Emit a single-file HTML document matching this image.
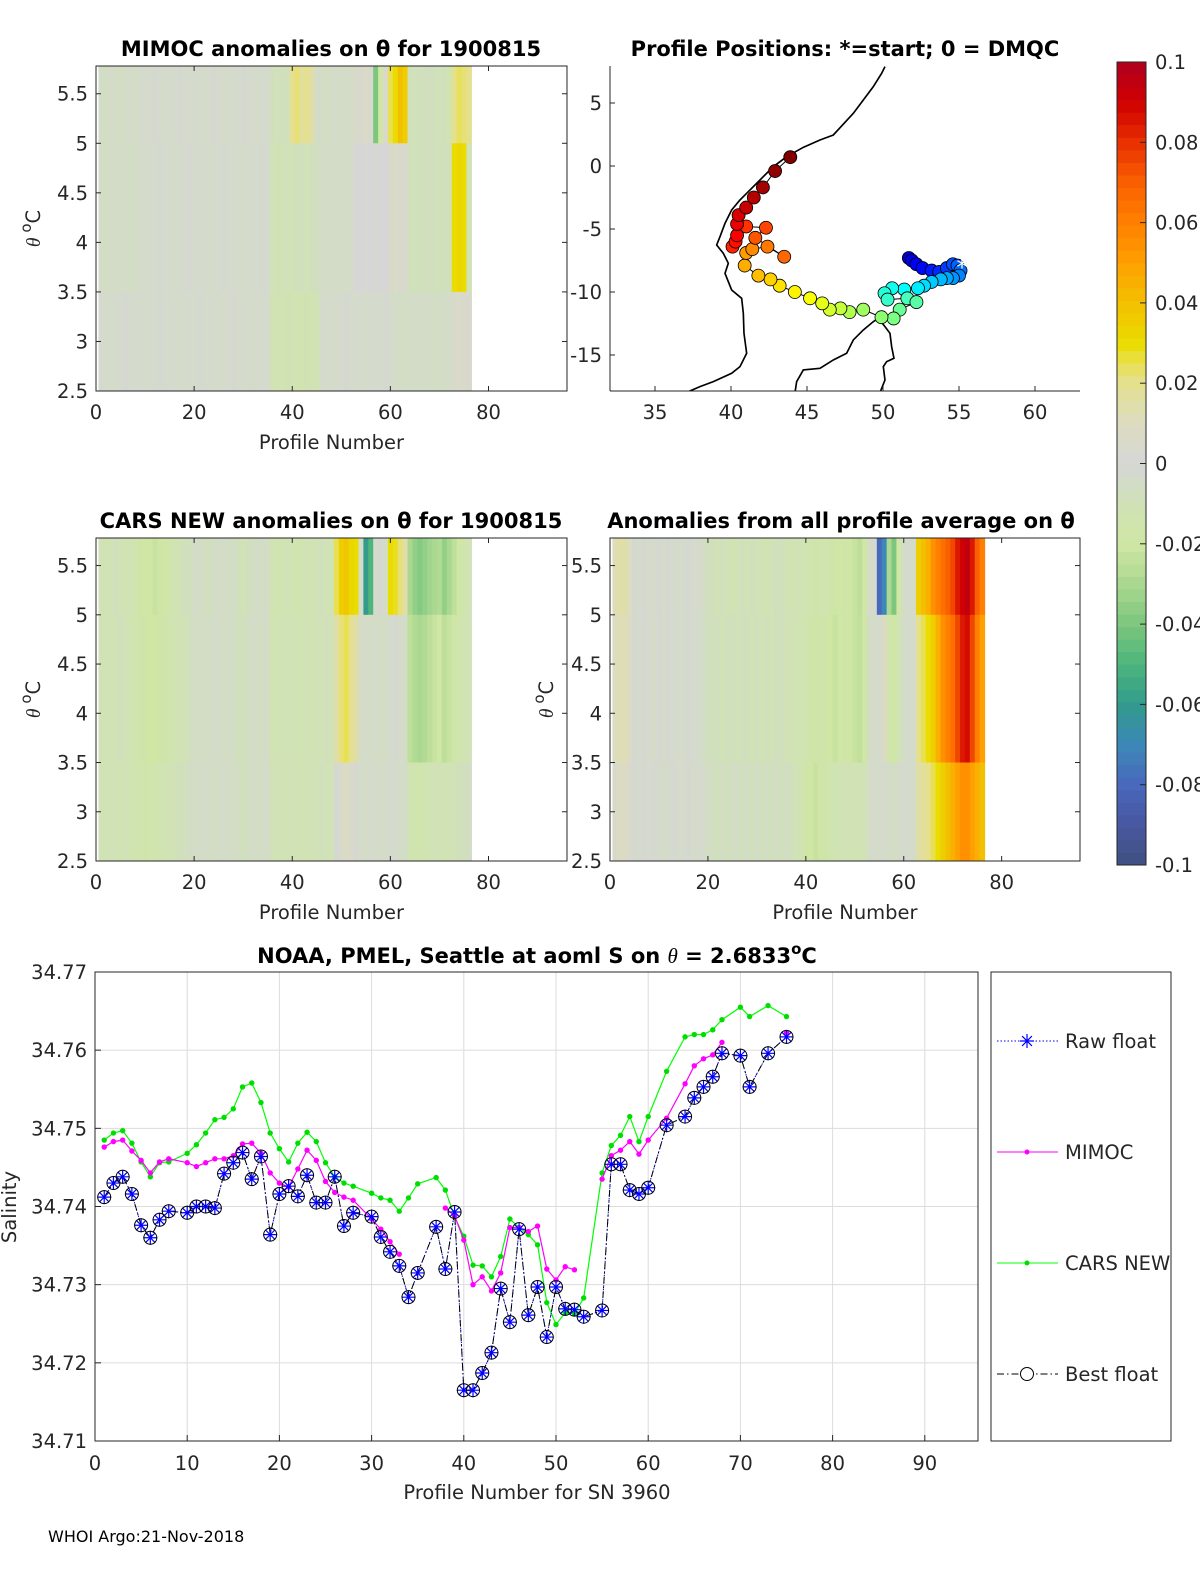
<!DOCTYPE html>
<html><head><meta charset="utf-8"><style>
html,body{margin:0;padding:0;background:#fff;}
svg{display:block;font-family:"DejaVu Sans","Liberation Sans",sans-serif;}
.t{font-size:19.5px;fill:#262626;}
.ti{font-size:21px;font-weight:bold;fill:#000;}
.ax{fill:none;stroke:#262626;stroke-width:1;}
</style></head><body>
<svg id="fig" width="1200" height="1575" viewBox="0 0 1200 1575" xmlns="http://www.w3.org/2000/svg">
<defs>
<clipPath id="c1"><rect x="96" y="66" width="471" height="325"/></clipPath>
<clipPath id="c3"><rect x="96" y="538" width="471" height="323"/></clipPath>
<clipPath id="c4"><rect x="610" y="538" width="470" height="323"/></clipPath>
<clipPath id="c2"><rect x="610" y="66" width="470" height="325"/></clipPath>
<clipPath id="c5"><rect x="95" y="972" width="883" height="469"/></clipPath>
</defs>
<g id="panels"></g>
<g id="map"></g>
<g id="cbar"></g>
<g id="line"></g>
<text x="48" y="1542" style="font-size:16px;fill:#000">WHOI Argo:21-Nov-2018</text>
</svg>
<script>
// ---------- heatmap data (thousandths) ----------
const p1Top=[-5,-6,-4,-5,-6,-5,-4,-5,-3,-3,-3,-2,-3,-4,-3,-3,-2,-3,-3,-3,-3,-4,-3,-2,-3,-3,-4,-3,-3,-2,-3,-3,-4,-3,-3,-8,-9,-8,-8,20,22,18,20,15,-5,-5,-6,-5,-4,-5,-5,-5,5,5,6,4,-40,-20,5,25,30,40,35,-8,-9,-8,-8,-7,-8,-9,-8,-15,20,24,22,20,null];
const p1Mid=[-5,-6,-5,-5,-4,-5,-6,-5,-4,-3,-3,-3,-2,-3,-3,-4,-3,-3,-2,-3,-3,-3,-4,-3,-3,-2,-3,-3,-3,-4,-3,-3,-3,-2,-3,-10,-11,-10,-9,-10,-8,-8,-9,-8,-7,-5,-5,-4,-5,-5,-5,-4,0,0,1,0,-1,0,0,5,6,5,4,-8,-9,-8,-8,-7,-8,-9,-8,-8,30,32,30,-10,null];
const p1Bot=[-3,-3,-4,-3,-3,-2,-3,-3,-3,-4,-3,-3,-2,-3,-3,-3,-4,-3,-3,-3,-2,-3,-3,-3,-4,-3,-3,-2,-3,-3,-3,-4,-3,-3,-3,-12,-13,-12,-11,-12,-12,-13,-11,-12,-12,-3,-3,-4,-3,-3,-2,-3,-3,-3,-4,-3,-3,-3,-2,-3,-5,-5,-6,-5,-5,-4,-5,-5,-6,-5,-5,-5,5,6,5,4,null];
const p3Top=[-10,-12,-10,-8,-10,-12,-10,-15,-18,-20,-20,-22,-18,-20,-15,-12,-10,-8,-8,-5,-5,-6,-8,-5,-5,-4,-6,-5,-8,-10,-8,-6,-5,-5,-6,-12,-14,-12,-10,-12,-14,-12,-10,-12,-10,-8,-10,-12,25,35,38,32,30,-5,-60,-50,-3,-2,-5,30,28,22,15,-30,-35,-38,-35,-32,-30,-28,-35,-30,-25,-20,-15,-10,null];
const p3Mid=[-10,-10,-12,-10,-8,-10,-12,-14,-16,-18,-20,-20,-18,-16,-14,-12,-10,-10,-8,-6,-5,-6,-5,-5,-4,-6,-5,-6,-8,-8,-6,-5,-6,-5,-6,-12,-12,-10,-12,-10,-12,-12,-10,-12,-10,-10,-8,-10,15,22,25,20,15,-5,-4,-5,-4,-6,-5,-3,-2,-4,-5,-25,-28,-30,-28,-25,-22,-20,-25,-22,-18,-15,-12,-10,null];
const p3Bot=[-10,-12,-10,-10,-12,-10,-12,-14,-14,-16,-15,-14,-12,-12,-10,-10,-8,-8,-6,-5,-5,-4,-5,-6,-5,-4,-5,-6,-6,-8,-6,-5,-6,-5,-5,-10,-10,-12,-10,-10,-10,-12,-10,-10,-10,-8,-10,-10,-2,5,8,5,2,-5,-4,-3,-4,-5,-4,-3,-3,-5,-5,-12,-14,-15,-12,-12,-10,-10,-12,-10,-10,-8,-8,-6,null];
const p4Top=[12,15,15,10,-2,-3,-2,-4,-3,-2,-3,-2,-3,-4,-3,-2,-3,-3,-4,-8,-8,-10,-8,-10,-12,-10,-8,-10,-8,-10,-10,-12,-10,-8,-8,-10,-12,-10,-12,-12,-14,-16,-15,-14,-16,-18,-20,-18,-20,-22,-25,-20,-4,-3,-80,-70,-30,-40,-20,-5,-3,-4,35,40,45,55,60,65,70,75,85,90,95,85,70,60,null];
const p4Mid=[10,12,12,8,-2,-3,-2,-3,-4,-2,-3,-2,-3,-3,-4,-2,-3,-3,-5,-8,-8,-8,-10,-8,-8,-10,-8,-8,-10,-8,-10,-8,-10,-8,-8,-10,-10,-12,-12,-14,-16,-18,-16,-18,-20,-22,-20,-18,-20,-22,-24,-20,-5,-4,-3,8,-15,-20,-10,-5,-3,-4,20,25,30,35,45,55,60,65,75,85,88,75,60,50,null];
const p4Bot=[5,8,8,5,-2,-3,-2,-3,-2,-3,-4,-3,-2,-3,-3,-2,-4,-3,-3,-6,-6,-8,-6,-8,-6,-6,-8,-6,-8,-6,-8,-6,-8,-6,-8,-6,-8,-10,-12,-18,-20,-22,-18,-16,-14,-12,-12,-10,-12,-10,-12,-10,-4,-3,-4,-3,-5,-6,-4,-3,-3,-4,15,18,20,25,30,35,40,45,50,55,55,50,45,40,null];
const thetaBands=[[5.0,5.78],[3.5,5.0],[2.5,3.5]];
const thetaTicks=[2.5,3,3.5,4,4.5,5,5.5];
const profTicks=[0,20,40,60,80];

// ---------- map data ----------
const floatLon=[51.7,51.9,52.2,52.6,53.2,53.7,54.2,54.6,54.9,55.1,55.0,54.6,54.2,53.8,53.2,52.7,52.3,51.4,50.6,50.1,50.3,51.6,52.2,51.1,50.7,49.9,48.7,47.8,47.2,46.5,46.0,45.2,44.2,43.2,42.6,41.8,40.9,41.0,41.4,42.4,43.5,41.6,42.3,41.0,40.1,40.3,40.4,40.4,40.5,41.0,41.5,42.1,42.9,43.9];
const floatLat=[-7.3,-7.5,-7.8,-8.1,-8.3,-8.4,-8.1,-7.8,-7.9,-8.3,-8.7,-8.9,-8.9,-9.0,-9.2,-9.5,-9.7,-9.8,-9.7,-10.1,-10.6,-10.5,-10.8,-11.4,-12.1,-12.0,-11.4,-11.6,-11.3,-11.4,-10.9,-10.5,-10.0,-9.5,-9.0,-8.7,-7.9,-6.9,-6.6,-6.4,-7.2,-5.7,-4.9,-4.8,-6.4,-6.0,-5.5,-4.6,-3.9,-3.3,-2.5,-1.7,-0.4,0.7];
const mapLonTicks=[35,40,45,50,55,60];
const mapLatTicks=[5,0,-5,-10,-15];

// ---------- salinity line data ----------
const profiles=[1,2,3,4,5,6,7,8,10,11,12,13,14,15,16,17,18,19,20,21,22,23,24,25,26,27,28,30,31,32,33,34,35,37,38,39,40,41,42,43,44,45,46,47,48,49,50,51,52,53,55,56,57,58,59,60,62,64,65,66,67,68,70,71,73,75];
const bestFloat=[34.7412,34.7430,34.7438,34.7416,34.7376,34.7360,34.7383,34.7394,34.7392,34.7400,34.7400,34.7398,34.7442,34.7456,34.7469,34.7435,34.7464,34.7364,34.7416,34.7426,34.7413,34.7440,34.7405,34.7405,34.7438,34.7375,34.7392,34.7387,34.7361,34.7342,34.7324,34.7284,34.7315,34.7374,34.7320,34.7393,34.7165,34.7165,34.7187,34.7213,34.7295,34.7252,34.7371,34.7261,34.7297,34.7233,34.7297,34.7269,34.7268,34.7259,34.7267,34.7454,34.7454,34.7421,34.7416,34.7424,34.7504,34.7515,34.7539,34.7553,34.7566,34.7596,34.7593,34.7553,34.7596,34.7617];
const rawFloat=bestFloat.slice();
const mimoc=[34.7476,34.7483,34.7485,34.7471,34.7459,34.7443,34.7457,34.7461,34.7456,34.7451,34.7456,34.7461,34.7461,34.7465,34.7480,34.7481,34.7468,34.7443,34.7430,34.7425,34.7448,34.7472,34.7459,34.7432,34.7418,34.7412,34.7408,34.7384,34.7371,34.7355,34.7339,null,null,null,34.7398,34.7388,34.7357,34.7300,34.7310,34.7292,34.7315,34.7373,34.7373,34.7368,34.7375,34.7320,34.7306,34.7323,34.7319,null,34.7435,34.7465,34.7472,34.7483,34.7467,34.7485,34.7513,34.7557,34.7580,34.7589,34.7594,34.7610,null,null,null,34.7622];
const carsNew=[34.7485,34.7494,34.7497,34.7481,34.7457,34.7438,34.7456,34.7457,34.7468,34.7479,34.7494,34.7511,34.7514,34.7525,34.7553,34.7558,34.7533,34.7494,34.7474,34.7457,34.7481,34.7495,34.7483,34.7456,34.7438,34.7430,34.7426,34.7417,34.7411,34.7408,34.7394,34.7411,34.7429,34.7437,34.7421,34.7387,34.7362,34.7325,34.7324,34.7310,34.7336,34.7384,34.7373,34.7364,34.7351,34.7277,34.7249,34.7264,34.7263,34.7283,34.7443,34.7478,34.7491,34.7515,34.7483,34.7515,34.7573,34.7617,34.7620,34.7620,34.7626,34.7639,34.7655,34.7643,34.7657,34.7643];
const salTicks=[34.71,34.72,34.73,34.74,34.75,34.76,34.77];
const lineXTicks=[0,10,20,30,40,50,60,70,80,90];

const NS="http://www.w3.org/2000/svg";
function mk(tag,attrs,parent,txt){const e=document.createElementNS(NS,tag);for(const k in attrs)e.setAttribute(k,attrs[k]);if(txt!==undefined)e.textContent=txt;parent.appendChild(e);return e;}

// anomaly colormap
const cmapV=[-0.1,-0.09,-0.08,-0.07,-0.06,-0.05,-0.04,-0.03,-0.02,-0.01,0,0.01,0.02,0.025,0.03,0.04,0.05,0.06,0.07,0.08,0.09,0.1];
const cmapC=["#3e5080","#4858a0","#4868bc","#3c88b8","#329b8c","#4db57c","#7cc67e","#aad890","#cfe6a4","#d0e2b6","#d6d6d6","#dcdcc0","#e4e090","#e8e050","#eadc00","#f2c000","#ffa000","#ff8000","#fa6000","#e83000","#d00000","#b00020"];
function hex(c){return [parseInt(c.substr(1,2),16),parseInt(c.substr(3,2),16),parseInt(c.substr(5,2),16)];}
function cmap(v){v=Math.max(-0.1,Math.min(0.1,v));for(let i=0;i<cmapV.length-1;i++){if(v<=cmapV[i+1]){const t=(v-cmapV[i])/(cmapV[i+1]-cmapV[i]);const a=hex(cmapC[i]),b=hex(cmapC[i+1]);return "rgb("+a.map((x,j)=>Math.round(x+(b[j]-x)*t)).join(",")+")";}}return cmapC[cmapC.length-1];}
function jet(t){const r=Math.min(1,Math.max(0,1.5-Math.abs(4*t-3))),g=Math.min(1,Math.max(0,1.5-Math.abs(4*t-2))),b=Math.min(1,Math.max(0,1.5-Math.abs(4*t-1)));return "rgb("+[r,g,b].map(x=>Math.round(x*255)).join(",")+")";}

// ---------- heatmap panels ----------
const panelsG=document.getElementById('panels');
function panel(name,box,clip,top,mid,bot,title,titleX,showY,ylabX){
  const g=mk('g',{},panelsG);
  
  
  const xs=p=>box.x+(p/96)*box.w;
  const ys=th=>box.y+box.h-(th-2.5)/(5.78-2.5)*box.h;
  const cg=mk('g',{'clip-path':'url(#'+clip+')'},g);
  const bands=[top,mid,bot];
  for(let b=0;b<3;b++){
    for(let i=0;i<bands[b].length;i++){
      const v=bands[b][i]; if(v===null) continue;
      const p=i+1;
      const r=mk('rect',{x:xs(p-0.5),y:ys(thetaBands[b][1]),width:xs(p+0.5)-xs(p-0.5)+0.6,height:ys(thetaBands[b][0])-ys(thetaBands[b][1])+0.6,fill:cmap(v/1000)},cg);
      
      
    }
  }
  mk('rect',{x:box.x,y:box.y,width:box.w,height:box.h,class:'ax'},g);
  for(const t of profTicks){const x=xs(t);mk('line',{x1:x,x2:x,y1:box.y+box.h,y2:box.y+box.h-5,stroke:'#262626'},g);mk('line',{x1:x,x2:x,y1:box.y,y2:box.y+5,stroke:'#262626'},g);
    const tl=mk('text',{x:x,y:box.y+box.h+28,'text-anchor':'middle',class:'t'},g,String(t));}
  for(const t of thetaTicks){const y=ys(t);mk('line',{x1:box.x,x2:box.x+5,y1:y,y2:y,stroke:'#262626'},g);mk('line',{x1:box.x+box.w,x2:box.x+box.w-5,y1:y,y2:y,stroke:'#262626'},g);
    const tl=mk('text',{x:box.x-8,y:y+7,'text-anchor':'end',class:'t'},g,String(t));}
  const xl=mk('text',{x:box.x+box.w/2,y:box.y+box.h+58,'text-anchor':'middle',class:'t','font-size':'22'},g,'Profile Number');
  
  const yl=mk('text',{x:0,y:0,'text-anchor':'middle',class:'t',transform:'translate('+ylabX+','+(box.y+box.h/2)+') rotate(-90)','font-size':'22'},g);
  
  mk('tspan',{'font-style':'italic','font-family':'Liberation Serif, serif'},yl,'θ ');
  mk('tspan',{'baseline-shift':'super','font-size':'15'},yl,'o');
  mk('tspan',{},yl,'C');
  const tt=mk('text',{x:titleX,y:box.y-10,'text-anchor':'middle',class:'ti'},g,title);
  
}
panel('mimoc-anomaly-panel',{x:96,y:66,w:471,h:325},'c1',p1Top,p1Mid,p1Bot,'MIMOC anomalies on θ  for 1900815',331,true,40);
panel('cars-anomaly-panel',{x:96,y:538,w:471,h:323},'c3',p3Top,p3Mid,p3Bot,'CARS NEW anomalies on θ for 1900815',331,true,40);
panel('profile-average-anomaly-panel',{x:610,y:538,w:470,h:323},'c4',p4Top,p4Mid,p4Bot,'Anomalies from all profile average on θ',841,true,553);

// ---------- map ----------
const mapG=document.getElementById('map');


const lonX=l=>655+(l-35)*15.2;
const latY=l=>166-l*12.6;
const mc=mk('g',{'clip-path':'url(#c2)'},mapG);
const coast1="M855,20 L845,40 L820,80 L790,120 L760,160 L700,225 L660,240 L610,262 L560,290 L520,320 L480,360 L440,400 L420,420 L395,450 L375,490 L360,530 L350,555 L370,580 L385,610 L375,640 L395,690 L425,715 L430,760 L432,820 L440,880 L420,920 L395,940 L340,965 L300,980 L258,998";
const coast2="M585,998 L590,965 L610,930 L660,925 L700,900 L740,880 L760,840 L790,810 L820,785 L835,775 L855,800 L870,820 L875,860 L882,895 L860,905 L850,920 L855,960 L840,998";
const cgroup=mk('g',{transform:'translate(600,60) scale(0.3333)'},mc);
const c1=mk('path',{d:coast1,fill:'none',stroke:'#000','stroke-width':5},cgroup);

const c2=mk('path',{d:coast2,fill:'none',stroke:'#000','stroke-width':5},cgroup);

let tp='';for(let i=0;i<floatLon.length;i++){tp+=(i?'L':'M')+lonX(floatLon[i])+','+latY(floatLat[i]);}
mk('path',{d:tp,fill:'none',stroke:'#000','stroke-width':1},mc);
for(let i=0;i<floatLon.length;i++){
  const c=mk('circle',{cx:lonX(floatLon[i]),cy:latY(floatLat[i]),r:6.5,fill:jet(0.08+0.92*i/(floatLon.length-1)),stroke:'#000','stroke-width':0.8},mc);
  
  
}
const st=mk('text',{x:lonX(55.2),y:latY(-8.0)+8,'text-anchor':'middle',fill:'#fff','font-size':'22'},mc,'*');

mk('line',{x1:610,y1:66,x2:610,y2:391,stroke:'#262626'},mapG);
mk('line',{x1:610,y1:391,x2:1080,y2:391,stroke:'#262626'},mapG);
for(const t of mapLonTicks){const x=lonX(t);mk('line',{x1:x,x2:x,y1:391,y2:386,stroke:'#262626'},mapG);const tl=mk('text',{x:x,y:419,'text-anchor':'middle',class:'t'},mapG,String(t));}
for(const t of mapLatTicks){const y=latY(t);mk('line',{x1:610,x2:615,y1:y,y2:y,stroke:'#262626'},mapG);const tl=mk('text',{x:602,y:y+7,'text-anchor':'end',class:'t'},mapG,String(t));}
const mt=mk('text',{x:845,y:56,'text-anchor':'middle',class:'ti'},mapG,'Profile Positions: *=start; 0 = DMQC');


// ---------- colorbar ----------
const cb=document.getElementById('cbar');


const cbTicks=[-0.1,-0.08,-0.06,-0.04,-0.02,0,0.02,0.04,0.06,0.08,0.1];
const cbY=v=>865-(v+0.1)/0.2*(865-62);
for(let k=0;k<64;k++){const v0=-0.1+k*0.2/64;mk('rect',{x:1117,y:cbY(v0+0.2/64),width:29,height:(865-62)/64+0.5,fill:cmap(v0+0.1/64)},cb);}
mk('rect',{x:1117,y:62,width:29,height:803,class:'ax'},cb);
for(const t of cbTicks){const y=cbY(t);mk('line',{x1:1140,x2:1146,y1:y,y2:y,stroke:'#262626'},cb);const tl=mk('text',{x:1155,y:y+7,class:'t','font-size':'18'},cb,String(t));}

// ---------- salinity line chart ----------
const lg=document.getElementById('line');


const L={x:95,y:972,w:883,h:469};
const sx=p=>L.x+p*9.22;
const sy=v=>L.y+L.h-(v-34.71)/0.06*L.h;
for(const t of lineXTicks){const x=sx(t);mk('line',{x1:x,x2:x,y1:L.y,y2:L.y+L.h,stroke:'#dcdcdc'},lg);mk('line',{x1:x,x2:x,y1:L.y+L.h,y2:L.y+L.h-6,stroke:'#262626'},lg);
  const tl=mk('text',{x:x,y:L.y+L.h+29,'text-anchor':'middle',class:'t'},lg,String(t));}
for(const t of salTicks){const y=sy(t);mk('line',{x1:L.x,x2:L.x+L.w,y1:y,y2:y,stroke:'#dcdcdc'},lg);mk('line',{x1:L.x,x2:L.x+6,y1:y,y2:y,stroke:'#262626'},lg);
  const tl=mk('text',{x:L.x-8,y:y+7,'text-anchor':'end',class:'t'},lg,t.toFixed(2));}
mk('rect',{x:L.x,y:L.y,width:L.w,height:L.h,class:'ax'},lg);
const plot=mk('g',{'clip-path':'url(#c5)'},lg);
function pathFor(vals){let d='',pen=false;for(let i=0;i<profiles.length;i++){const v=vals[i];if(v===null){pen=false;continue;}d+=(pen?'L':'M')+sx(profiles[i]).toFixed(1)+','+sy(v).toFixed(1);pen=true;}return d;}
const cp=mk('path',{d:pathFor(carsNew),fill:'none',stroke:'#00ff00','stroke-width':1.2},plot);

for(let i=0;i<profiles.length;i++){if(carsNew[i]===null)continue;const c=mk('circle',{cx:sx(profiles[i]),cy:sy(carsNew[i]),r:2.7,fill:'#00dd00'},plot);}
const mp=mk('path',{d:pathFor(mimoc),fill:'none',stroke:'#ff00ff','stroke-width':1.2},plot);

for(let i=0;i<profiles.length;i++){if(mimoc[i]===null)continue;const c=mk('circle',{cx:sx(profiles[i]),cy:sy(mimoc[i]),r:2.7,fill:'#ff00ff'},plot);}
const rp=mk('path',{d:pathFor(rawFloat),fill:'none',stroke:'#0000ff','stroke-width':1,'stroke-dasharray':'1.5,2'},plot);

const bp=mk('path',{d:pathFor(bestFloat),fill:'none',stroke:'#000','stroke-width':1,'stroke-dasharray':'7,3,1.5,3'},plot);

function star(g,x,y,s){mk('path',{d:`M${x-s},${y}H${x+s}M${x},${y-s}V${y+s}M${x-s*0.7},${y-s*0.7}L${x+s*0.7},${y+s*0.7}M${x-s*0.7},${y+s*0.7}L${x+s*0.7},${y-s*0.7}`,stroke:'#0000ff','stroke-width':1.2,fill:'none'},g);}
for(let i=0;i<profiles.length;i++){
  const x=sx(profiles[i]);
  const s=mk('g',{},plot);
  star(s,x,sy(rawFloat[i]),7);
  const c=mk('circle',{cx:x,cy:sy(bestFloat[i]),r:6.5,fill:'none',stroke:'#000','stroke-width':1},plot);
  
}
const lt=mk('text',{x:537,y:963,'text-anchor':'middle',class:'ti'},lg);

mk('tspan',{},lt,'NOAA, PMEL, Seattle at aoml S on ');
mk('tspan',{'font-style':'italic','font-weight':'normal','font-family':'Liberation Serif, serif'},lt,'θ');
mk('tspan',{},lt,' = 2.6833');
mk('tspan',{'baseline-shift':'super','font-size':'15'},lt,'o');
mk('tspan',{},lt,'C');
const xl=mk('text',{x:537,y:1499,'text-anchor':'middle',class:'t','font-size':'22'},lg,'Profile Number for SN 3960');

const yl=mk('text',{x:0,y:0,'text-anchor':'middle',class:'t','font-size':'22',transform:'translate(16,1207) rotate(-90)'},lg,'Salinity');

// legend
const leg=mk('g',{},lg);


mk('rect',{x:991,y:972,width:180,height:469,fill:'#fff',stroke:'#262626'},leg);
const legNames=['Raw float','MIMOC','CARS NEW','Best float'];
const legY=[1041,1152,1263,1374];
for(let k=0;k<4;k++){
  const e=mk('g',{},leg);
  
  
  const y=legY[k];
  if(k===0){mk('line',{x1:997,x2:1058,y1:y,y2:y,stroke:'#0000ff','stroke-dasharray':'1.5,2'},e);star(e,1027,y,7);}
  if(k===1){mk('line',{x1:997,x2:1058,y1:y,y2:y,stroke:'#ff00ff'},e);mk('circle',{cx:1027,cy:y,r:2.5,fill:'#ff00ff'},e);}
  if(k===2){mk('line',{x1:997,x2:1058,y1:y,y2:y,stroke:'#00ff00'},e);mk('circle',{cx:1027,cy:y,r:2.5,fill:'#00dd00'},e);}
  if(k===3){mk('line',{x1:997,x2:1058,y1:y,y2:y,stroke:'#000','stroke-dasharray':'7,3,1.5,3'},e);mk('circle',{cx:1027,cy:y,r:6.5,fill:'#fff',stroke:'#000'},e);}
  mk('text',{x:1065,y:y+7,class:'t'},e,legNames[k]);
}
</script>
</body></html>
